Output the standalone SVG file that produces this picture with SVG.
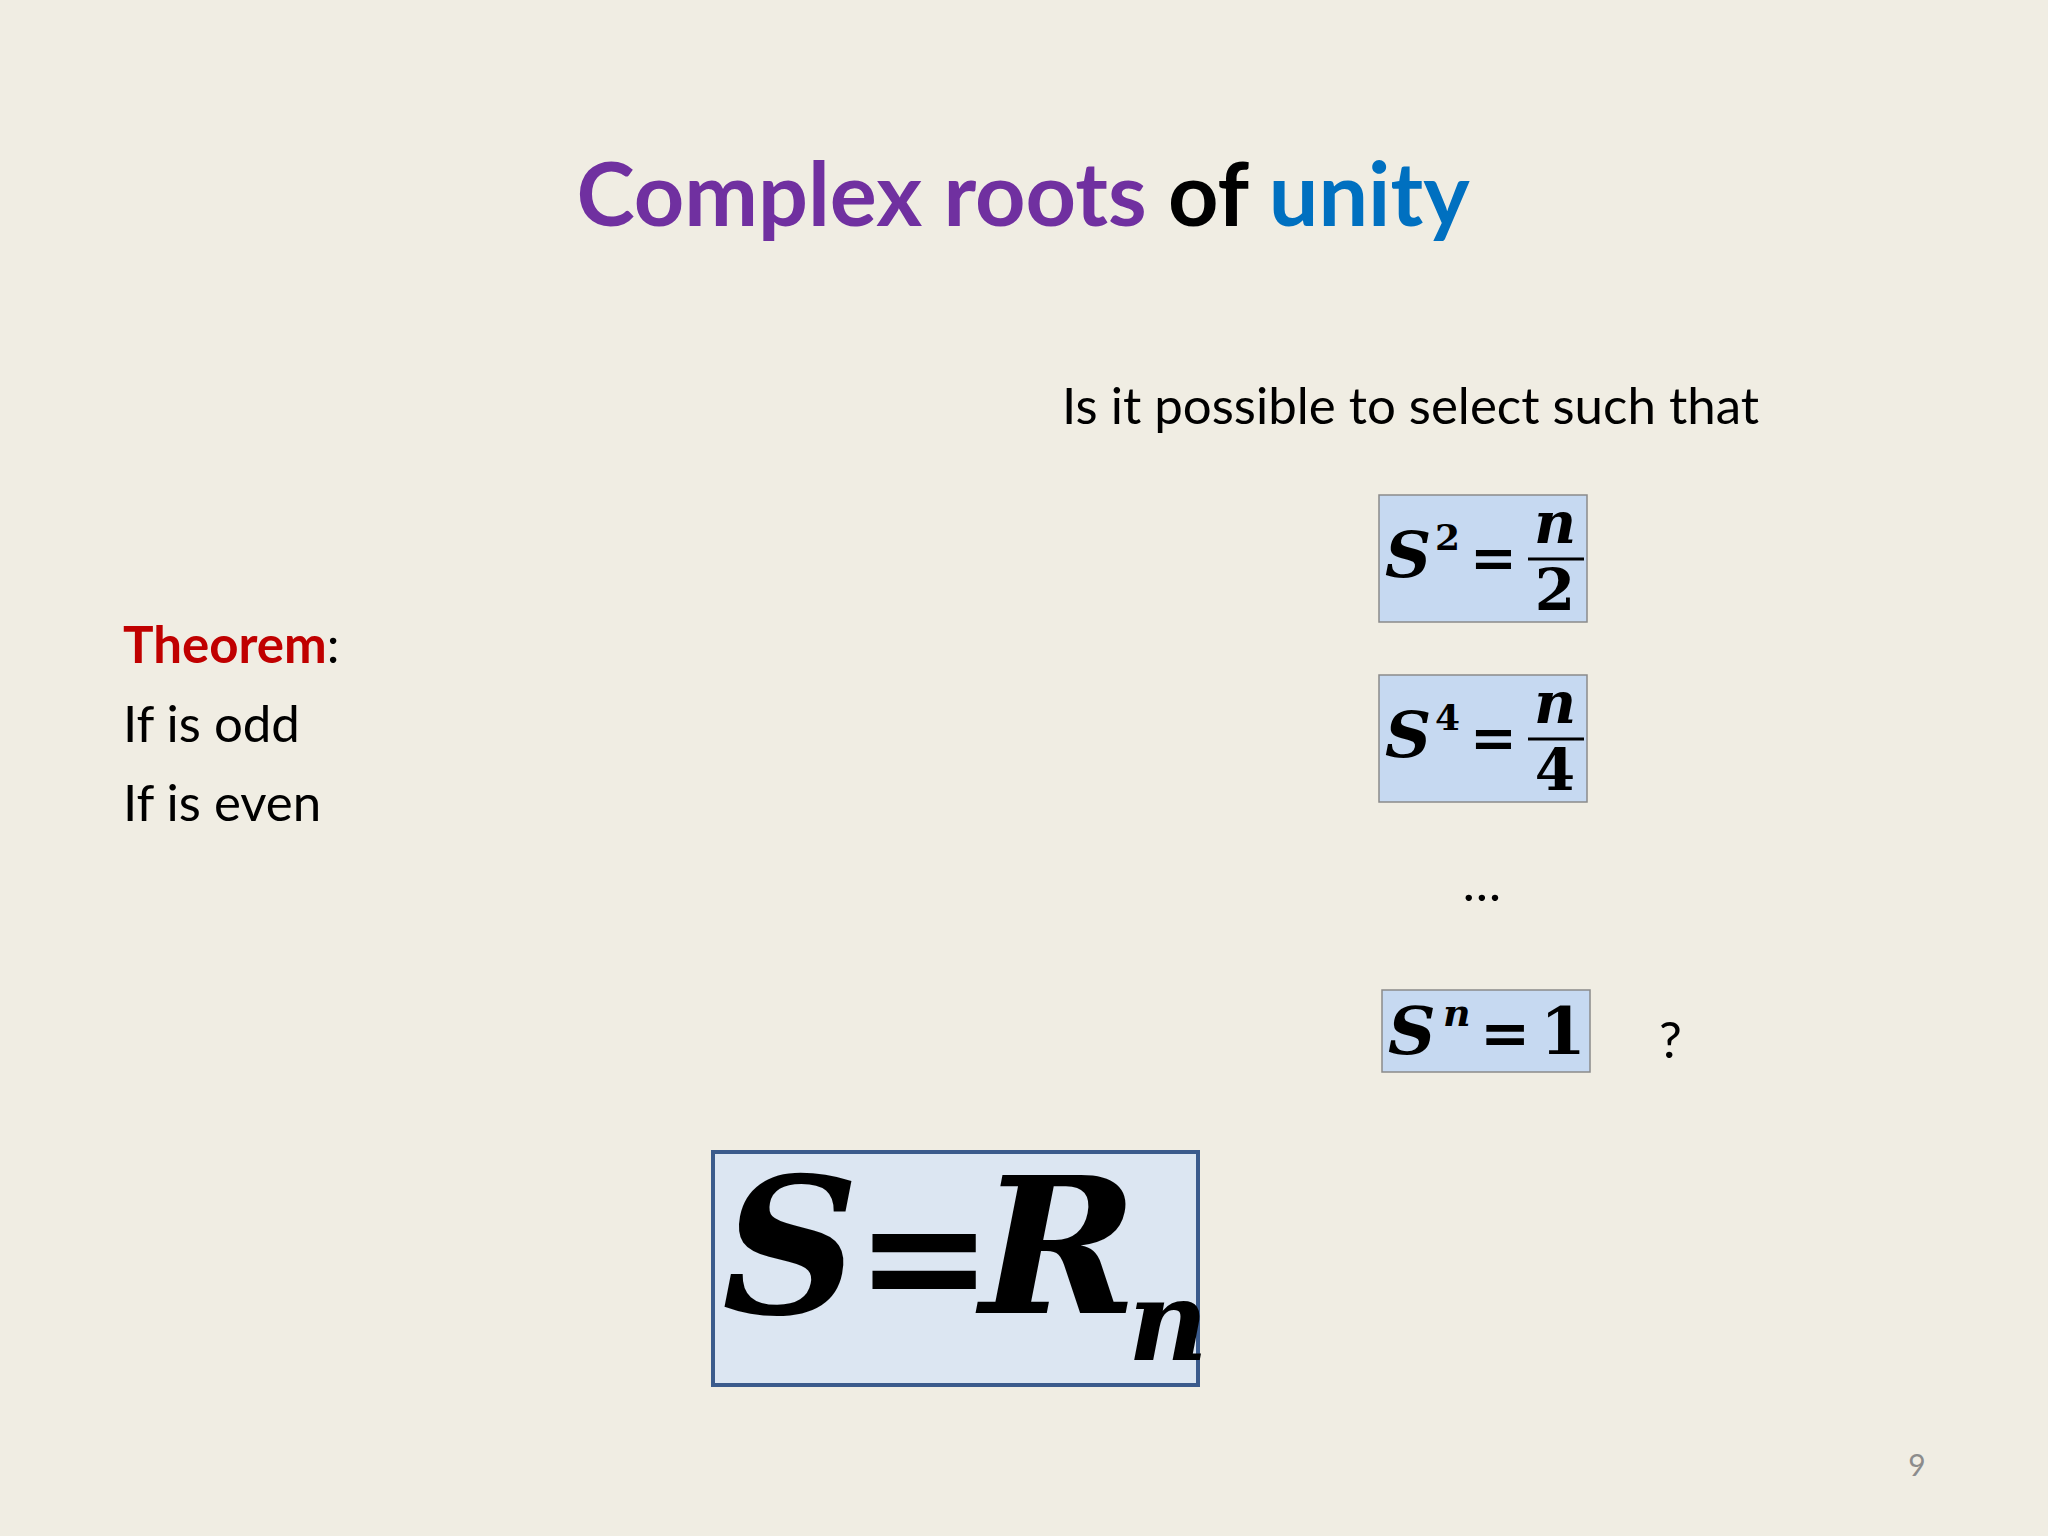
<svg xmlns="http://www.w3.org/2000/svg" width="2048" height="1536" viewBox="0 0 2048 1536">
<style>
.t{font-family:Lato,"Open Sans",sans-serif}
.m{font-family:"DejaVu Serif",serif;font-weight:bold}
.i{font-style:italic}
.box{fill:#c6d9f1;stroke:#8a8a8a;stroke-width:1.5}
</style>
<rect width="2048" height="1536" fill="#f0ede3"/>
<text class="t" x="1023" y="226" text-anchor="middle" font-size="88" font-weight="bold"><tspan fill="#7030a0">Complex roots</tspan><tspan fill="#000"> of </tspan><tspan fill="#0070c0">unity</tspan></text>
<text class="t" x="1062" y="424" font-size="51" fill="#000">Is it possible to select  such that</text>
<g id="theorem" class="t" font-size="51">
<text x="123" y="663"><tspan fill="#c00000" font-weight="bold">Theorem</tspan><tspan fill="#000">:</tspan></text>
<text x="123" y="742" fill="#000">If  is odd</text>
<text x="123" y="821" fill="#000">If  is even</text>
</g>
<g id="eq1">
<rect class="box" x="1379" y="495" width="208" height="127"/>
<text class="m i" x="1385" y="577" font-size="64">S</text>
<text class="m" x="1435" y="550" font-size="36">2</text>
<text class="m" x="1470" y="577" font-size="56">=</text>
<text class="m i" x="1555" y="543" font-size="58" text-anchor="middle">n</text>
<line x1="1528" y1="559" x2="1584" y2="559" stroke="#000" stroke-width="3"/>
<text class="m" x="1555" y="610" font-size="58" text-anchor="middle">2</text>
</g>
<g id="eq2">
<rect class="box" x="1379" y="675" width="208" height="127"/>
<text class="m i" x="1385" y="757" font-size="64">S</text>
<text class="m" x="1435" y="730" font-size="36">4</text>
<text class="m" x="1470" y="757" font-size="56">=</text>
<text class="m i" x="1555" y="723" font-size="58" text-anchor="middle">n</text>
<line x1="1528" y1="739" x2="1584" y2="739" stroke="#000" stroke-width="3"/>
<text class="m" x="1555" y="790" font-size="58" text-anchor="middle">4</text>
</g>
<text class="t" x="1482" y="901" font-size="51" text-anchor="middle">…</text>
<g id="eq3">
<rect class="box" x="1382" y="990" width="208" height="82"/>
<text class="m i" x="1388" y="1054" font-size="66">S</text>
<text class="m i" x="1443" y="1026" font-size="38">n</text>
<text class="m" x="1480" y="1054" font-size="60">=</text>
<text class="m" x="1540" y="1054" font-size="66">1</text>
</g>
<text class="t" x="1659" y="1058" font-size="51">?</text>
<g id="main">
<rect x="713" y="1152" width="485" height="233" fill="#dce6f2" stroke="#3b5b8c" stroke-width="4"/>
<text class="m i" x="722" y="1313" font-size="190">S</text>
<text class="m" x="855" y="1313" font-size="165">=</text>
<text class="m i" x="980" y="1313" font-size="190">R</text>
<text class="m i" x="1128" y="1360" font-size="110">n</text>
</g>
<text class="t" x="1917" y="1476" font-size="30" fill="#8c8c8c" text-anchor="middle">9</text>
</svg>
